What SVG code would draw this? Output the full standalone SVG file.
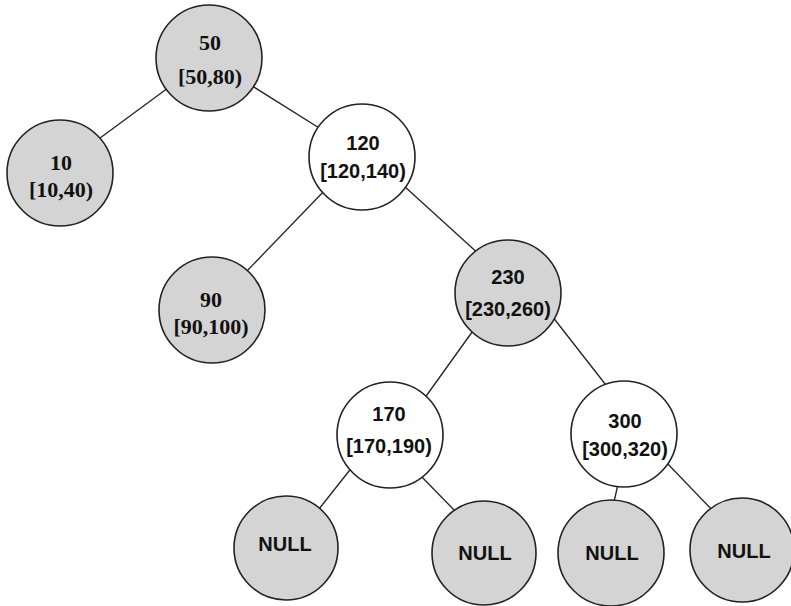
<svg xmlns="http://www.w3.org/2000/svg" width="791" height="606" viewBox="0 0 791 606">
<style>
.edge{stroke:#222;stroke-width:1.3;fill:none}
.node circle{fill:#d4d4d4;stroke:#222;stroke-width:1.6}
.node.w circle{fill:#fff}
.sf{font-family:"Liberation Sans",Arial,sans-serif;font-weight:bold;font-size:20px;fill:#111;text-anchor:middle}
.tf{font-family:"Liberation Serif","Times New Roman",serif;font-weight:bold;font-size:22px;fill:#111;text-anchor:middle}
</style>
<rect width="791" height="606" fill="#fff"/>
<g id="connectors">
<line class="edge" x1="172" y1="85" x2="96" y2="141"/>
<line class="edge" x1="249" y1="84" x2="324" y2="131"/>
<line class="edge" x1="326" y1="189" x2="246" y2="272"/>
<line class="edge" x1="404" y1="186" x2="481" y2="256"/>
<line class="edge" x1="475" y1="328" x2="424" y2="399"/>
<line class="edge" x1="552" y1="316" x2="609" y2="389"/>
<line class="edge" x1="353" y1="466" x2="319" y2="509"/>
<line class="edge" x1="417" y1="472" x2="458" y2="514"/>
<line class="edge" x1="619" y1="480" x2="613" y2="506"/>
<line class="edge" x1="665" y1="461" x2="716" y2="514"/>
</g>
<g id="n50" class="node"><circle cx="209" cy="58" r="53"/><text class="tf" x="210" y="50">50</text><text class="tf" x="210" y="84">[50,80)</text></g>
<g id="n10" class="node"><circle cx="60" cy="173" r="53"/><text class="tf" x="61" y="170">10</text><text class="tf" x="61" y="197">[10,40)</text></g>
<g id="n120" class="node w"><circle cx="362" cy="157" r="53"/><text class="sf" x="363" y="150">120</text><text class="sf" x="363" y="178">[120,140)</text></g>
<g id="n90" class="node"><circle cx="212" cy="310" r="53"/><text class="tf" x="211" y="307">90</text><text class="tf" x="211" y="334">[90,100)</text></g>
<g id="n230" class="node"><circle cx="508" cy="293" r="53"/><text class="sf" x="508" y="284">230</text><text class="sf" x="508" y="316">[230,260)</text></g>
<g id="n170" class="node w"><circle cx="390" cy="435" r="53"/><text class="sf" x="389" y="421">170</text><text class="sf" x="389" y="453">[170,190)</text></g>
<g id="n300" class="node w"><circle cx="624" cy="434" r="53"/><text class="sf" x="625" y="428">300</text><text class="sf" x="625" y="456">[300,320)</text></g>
<g id="null1" class="node"><circle cx="286" cy="548" r="52"/><text class="sf" x="285" y="551">NULL</text></g>
<g id="null2" class="node"><circle cx="484" cy="553" r="52"/><text class="sf" x="485" y="560">NULL</text></g>
<g id="null3" class="node"><circle cx="611" cy="553" r="53"/><text class="sf" x="612" y="560">NULL</text></g>
<g id="null4" class="node"><circle cx="742" cy="550" r="52"/><text class="sf" x="744" y="558">NULL</text></g>
</svg>
